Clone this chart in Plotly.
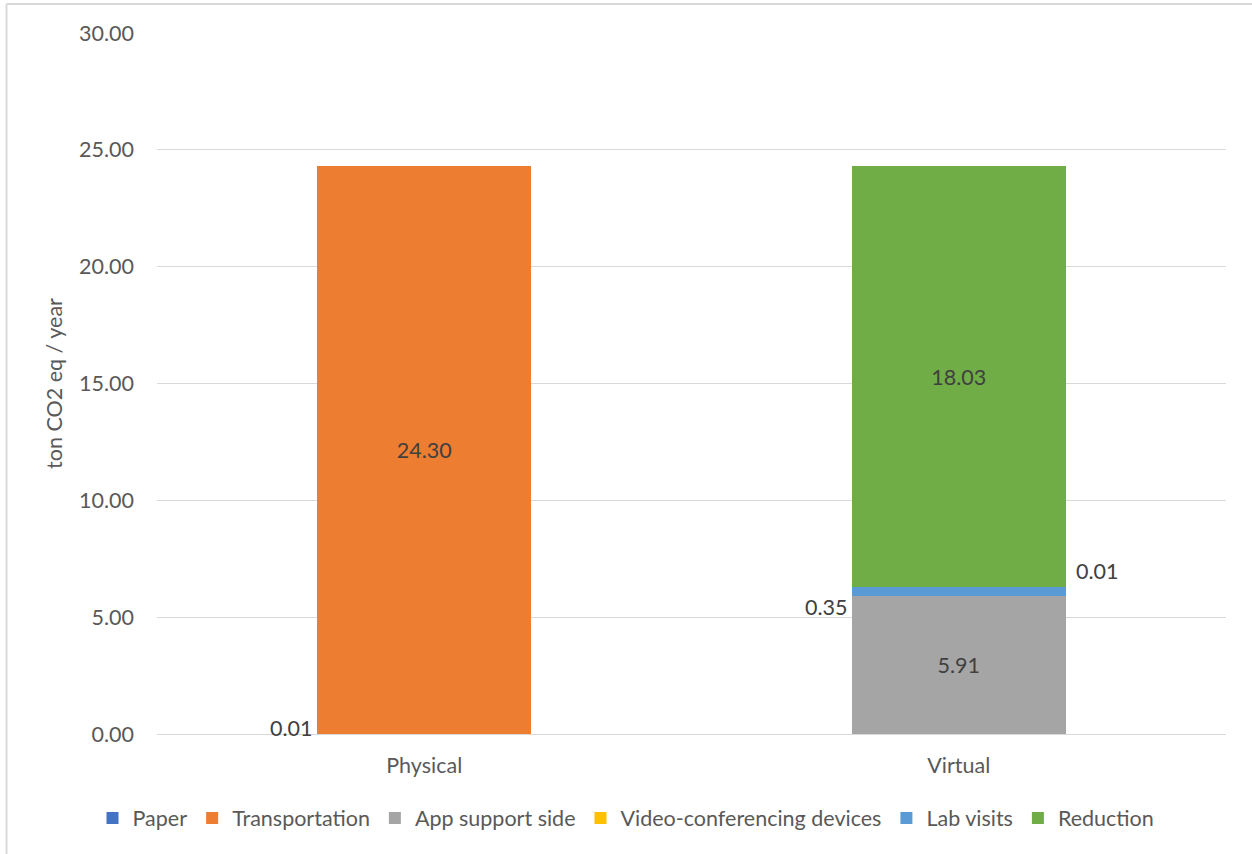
import plotly.graph_objects as go

categories = ["Physical", "Virtual"]
series_names = ["Paper", "Transportation", "App support side",
                "Video-conferencing devices", "Lab visits", "Reduction"]
paper = [0.01, 0.0]
transportation = [24.30, 0.0]
app_support = [0.0, 5.91]
video_conf = [0.0, 0.01]
lab_visits = [0.0, 0.35]
reduction = [0.0, 18.03]
colors = ["#4472C4", "#ED7D31", "#A5A5A5", "#FFC000", "#5B9BD5", "#70AD47"]
y_ticks = [0, 5, 10, 15, 20, 25, 30]

FONT = "Lato"
FS = 21.5
TXT = "#595959"
LBL = "#404040"

series = [paper, transportation, app_support, video_conf, lab_visits, reduction]
inside_label = [False, True, True, False, False, True]

fig = go.Figure()
for name, vals, col, lab in zip(series_names, series, colors, inside_label):
    fig.add_trace(go.Bar(
        x=categories, y=vals, name=name, marker_color=col,
        marker_line_width=0,
        text=[f"{v:.2f}" if (lab and v > 0) else "" for v in vals],
        textposition="inside", insidetextanchor="middle",
        textfont=dict(family=FONT, size=FS, color=LBL),
        textangle=0,
    ))

def cum_base(idx, cat):
    return sum(s[cat] for s in series[:idx])

# Paper (Physical) - left of bar at bottom
fig.add_annotation(x=categories[0], y=cum_base(0, 0) + paper[0], text=f"{paper[0]:.2f}",
                   xref="x", yref="y", showarrow=False, xanchor="right", yanchor="middle",
                   xshift=-110, yshift=6, font=dict(family=FONT, size=FS, color=LBL))
# Lab visits (Virtual) - left of bar
fig.add_annotation(x=categories[1], y=cum_base(4, 1), text=f"{lab_visits[1]:.2f}",
                   xref="x", yref="y", showarrow=False, xanchor="right", yanchor="middle",
                   xshift=-110, yshift=-11, font=dict(family=FONT, size=FS, color=LBL))
# Video-conferencing (Virtual) - right of bar
fig.add_annotation(x=categories[1], y=cum_base(5, 1), text=f"{video_conf[1]:.2f}",
                   xref="x", yref="y", showarrow=False, xanchor="left", yanchor="middle",
                   xshift=115, yshift=16, font=dict(family=FONT, size=FS, color=LBL))

L, R, T, B = 157, 26, 33, 120
W, H = 1252, 854
pw, ph = W - L - R, H - T - B
# chart frame (left and top edges)
fig.add_shape(type="line", xref="paper", yref="paper",
              x0=(6.5 - L) / pw, x1=(6.5 - L) / pw, y0=(H - B - H) / ph, y1=(H - B - 4) / ph,
              line=dict(color="#d9d9d9", width=2))
fig.add_shape(type="line", xref="paper", yref="paper",
              x0=(6.5 - L) / pw, x1=(W - L) / pw, y0=(H - B - 4) / ph, y1=(H - B - 4) / ph,
              line=dict(color="#d9d9d9", width=2))

fig.update_layout(
    barmode="stack", bargap=0.6,
    width=W, height=H,
    margin=dict(l=L, r=R, t=T, b=B),
    plot_bgcolor="white", paper_bgcolor="white",
    font=dict(family=FONT, size=FS, color=TXT),
    showlegend=True,
    legend=dict(orientation="h", x=0.5, xanchor="center", xref="container",
                y=36 / H, yanchor="middle", yref="container",
                font=dict(family=FONT, size=FS, color=TXT),
                traceorder="normal", itemwidth=30, entrywidth=0),
    yaxis=dict(range=[0, 30], tickvals=y_ticks, tickformat=".2f",
               gridcolor="#d9d9d9", gridwidth=1, zeroline=False,
               showline=False, ticks="", ticklabelstandoff=22,
               title=dict(text="ton CO2 eq / year", standoff=10,
                          font=dict(family=FONT, size=FS, color=TXT)),
               tickfont=dict(family=FONT, size=FS, color=TXT)),
    xaxis=dict(showline=True, linecolor="#d9d9d9", linewidth=1, ticks="",
               ticklabelstandoff=12,
               tickfont=dict(family=FONT, size=FS, color=TXT)),
)

fig.write_html("out.html")
